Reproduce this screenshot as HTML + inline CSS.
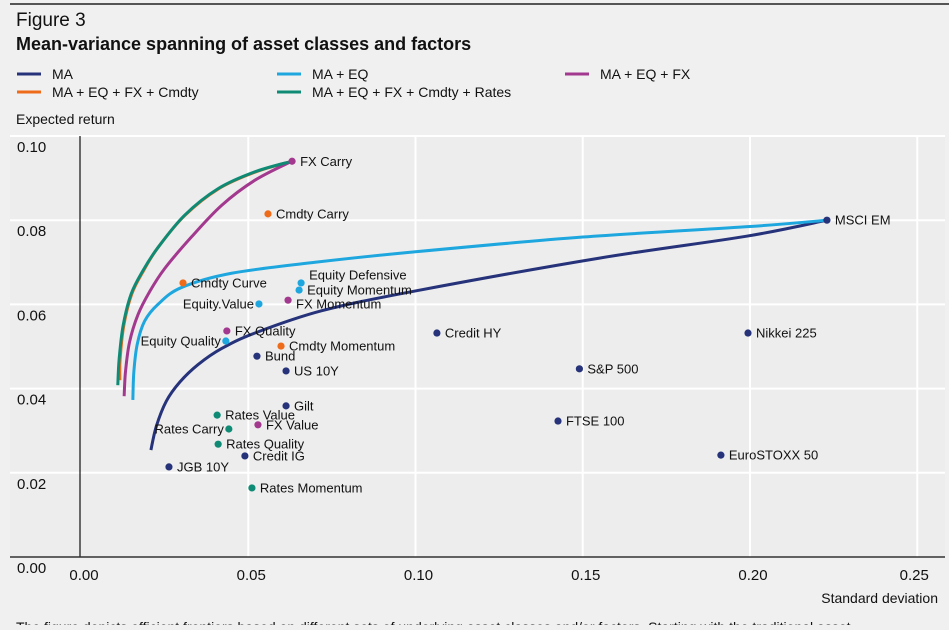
<!DOCTYPE html>
<html><head><meta charset="utf-8"><style>
body{margin:0;background:#f0f0f0;font-family:"Liberation Sans",sans-serif;}
svg text{font-family:"Liberation Sans",sans-serif;}
</style></head><body>
<svg id="c" width="949" height="625" xmlns="http://www.w3.org/2000/svg">
<rect x="0" y="0" width="949" height="625" fill="#f0f0f0"/>
<line x1="10" y1="4" x2="949" y2="4" stroke="#555" stroke-width="2"/>
<text x="16" y="26" font-size="19" fill="#111">Figure 3</text>
<text x="16" y="50" font-size="18" font-weight="bold" fill="#111">Mean-variance spanning of asset classes and factors</text>
<g id="legend"></g>
<text x="16" y="124" font-size="14" fill="#111">Expected return</text>
<g id="grid"></g>
<g id="lines"></g>
<g id="pts"></g>
<text x="938" y="603" font-size="14" fill="#111" text-anchor="end">Standard deviation</text>
<text x="16" y="632" font-size="14" fill="#111">The figure depicts efficient frontiers based on different sets of underlying asset classes and/or factors. Starting with the traditional asset</text>
</svg>
<script>
const xTicks=[0,0.05,0.10,0.15,0.20,0.25];
const yTicks=[0,0.02,0.04,0.06,0.08,0.10];
const seriesNames=["MA","MA + EQ","MA + EQ + FX","MA + EQ + FX + Cmdty","MA + EQ + FX + Cmdty + Rates"];
const seriesColors=["#26337a","#1ea6df","#a3398f","#ee6b1a","#0f8b75"];
const maX=[0.0209,0.0225,0.0255,0.0295,0.035,0.042,0.052,0.072,0.100,0.155,0.199,0.223];
const maY=[0.0254,0.031,0.037,0.0415,0.0457,0.0495,0.0532,0.0585,0.0632,0.0710,0.0762,0.080];
const eqX=[0.0155,0.0158,0.0168,0.0190,0.0230,0.030,0.045,0.070,0.100,0.150,0.200,0.223];
const eqY=[0.0373,0.0440,0.0505,0.0560,0.0600,0.0640,0.0674,0.0700,0.0725,0.0760,0.0785,0.080];
const fxX=[0.0129,0.0133,0.0145,0.0170,0.0205,0.025,0.033,0.042,0.052,0.063];
const fxY=[0.0382,0.0440,0.0510,0.0575,0.0630,0.0685,0.0760,0.0835,0.0895,0.094];
const cmX=[0.0116,0.0117,0.0128,0.0152,0.0187,0.023,0.031,0.041,0.052,0.063];
const cmY=[0.0420,0.0470,0.0550,0.0625,0.0680,0.0735,0.0811,0.0874,0.0914,0.094];
const rtX=[0.0110,0.0114,0.0126,0.0150,0.0185,0.023,0.031,0.041,0.052,0.063];
const rtY=[0.0408,0.0470,0.0550,0.0625,0.0680,0.0735,0.0812,0.0875,0.0915,0.094];
const ptNames=["FX Carry","Cmdty Carry","MSCI EM","Equity Defensive","Equity Momentum","Cmdty Curve","Equity.Value","FX Momentum","Credit HY","Nikkei 225","FX Quality","Equity Quality","Cmdty Momentum","Bund","US 10Y","S&P 500","Gilt","Rates Value","FTSE 100","Rates Carry","FX Value","Rates Quality","Credit IG","EuroSTOXX 50","JGB 10Y","Rates Momentum"];
const ptX=[0.0631,0.0559,0.223,0.0658,0.0652,0.0305,0.0532,0.0619,0.1064,0.1994,0.0436,0.0433,0.0598,0.0526,0.0613,0.149,0.0613,0.0407,0.1426,0.0442,0.0529,0.041,0.049,0.1913,0.0263,0.0511];
const ptY=[0.094,0.0815,0.080,0.0651,0.0634,0.0651,0.0601,0.061,0.0532,0.0532,0.0537,0.0513,0.0501,0.0477,0.0442,0.0447,0.0359,0.0337,0.0323,0.0304,0.0314,0.0268,0.024,0.0242,0.0214,0.0164];
const ptGroup=[2,3,0,1,1,3,1,2,0,0,2,1,3,0,0,0,0,4,0,4,2,4,0,0,0,4];
const ptLeft=[0,0,0,0,0,0,1,0,0,0,0,1,0,0,0,0,0,0,0,1,0,0,0,0,0,0];
const ptDy=[0,0,0,-8,0,0,0,4,0,0,0,0,0,0,0,0,0,0,0,0,0,0,0,0,0,0];

const NS="http://www.w3.org/2000/svg";
const X=v=>81+v*3345, Y=v=>557-v*4210;
function mk(t,a,p){const e=document.createElementNS(NS,t);for(const k in a)e.setAttribute(k,a[k]);p.appendChild(e);return e;}
const grid=document.getElementById('grid');
let bg=mk('rect',{x:10,y:136,width:935,height:421,fill:'#ededed'},grid);


yTicks.forEach(v=>{
 if(v>0){let l=mk('line',{x1:10,x2:945,y1:Y(v),y2:Y(v),stroke:'#fff','stroke-width':2},grid);
 
 }
 let t=mk('text',{x:17,y:Y(v)+16,'font-size':15,fill:'#111'},grid);t.textContent=v.toFixed(2);
 
 
});
xTicks.forEach(v=>{
 if(v>0){let l=mk('line',{x1:X(v),x2:X(v),y1:136,y2:557,stroke:'#fff','stroke-width':2},grid);
 
 }
 let t=mk('text',{x:X(v)+(v==0.25?-3:3),y:580,'font-size':15,fill:'#111','text-anchor':'middle'},grid);t.textContent=v.toFixed(2);
 
 
});
let ax=mk('line',{x1:80,x2:80,y1:136,y2:557,stroke:'#111','stroke-width':1.2},grid);


let bx=mk('line',{x1:10,x2:945,y1:557,y2:557,stroke:'#333','stroke-width':1.5},grid);



function smooth(xs,ys){const P=xs.map((x,i)=>[X(x),Y(ys[i])]);let d='M'+P[0].join(',');
 for(let i=0;i<P.length-1;i++){const p0=P[i-1]||P[i],p1=P[i],p2=P[i+1],p3=P[i+2]||p2;
 d+=` C${p1[0]+(p2[0]-p0[0])/6},${p1[1]+(p2[1]-p0[1])/6} ${p2[0]-(p3[0]-p1[0])/6},${p2[1]-(p3[1]-p1[1])/6} ${p2[0]},${p2[1]}`;}return d;}
const lines=document.getElementById('lines');
const sets=[[maX,maY,0],[eqX,eqY,1],[cmX,cmY,3],[fxX,fxY,2],[rtX,rtY,4]];
sets.forEach(s=>{let p=mk('path',{d:smooth(s[0],s[1]),fill:'none',stroke:seriesColors[s[2]],'stroke-width':3},lines);
 
 });
const pts=document.getElementById('pts');
ptNames.forEach((n,i)=>{const cx=X(ptX[i]),cy=Y(ptY[i]);
 let c=mk('circle',{cx:cx,cy:cy,r:3.6,fill:seriesColors[ptGroup[i]]},pts);
 
 
 let t=mk('text',{x:ptLeft[i]?cx-5:cx+8,y:cy+4.5+ptDy[i],'font-size':13,fill:'#111','text-anchor':ptLeft[i]?'end':'start'},pts);t.textContent=n;
 
 
});
const lg=document.getElementById('legend');
const lpos=[[17,74],[277,74],[565,74],[17,92],[277,92]];
seriesNames.forEach((n,i)=>{const [x,y]=lpos[i];
 let l=mk('line',{x1:x,x2:x+24,y1:y,y2:y,stroke:seriesColors[i],'stroke-width':3},lg);
 
 
 let t=mk('text',{x:x+35,y:y+5,'font-size':14,fill:'#111'},lg);t.textContent=n;
 
 
});
</script>
</body></html>
